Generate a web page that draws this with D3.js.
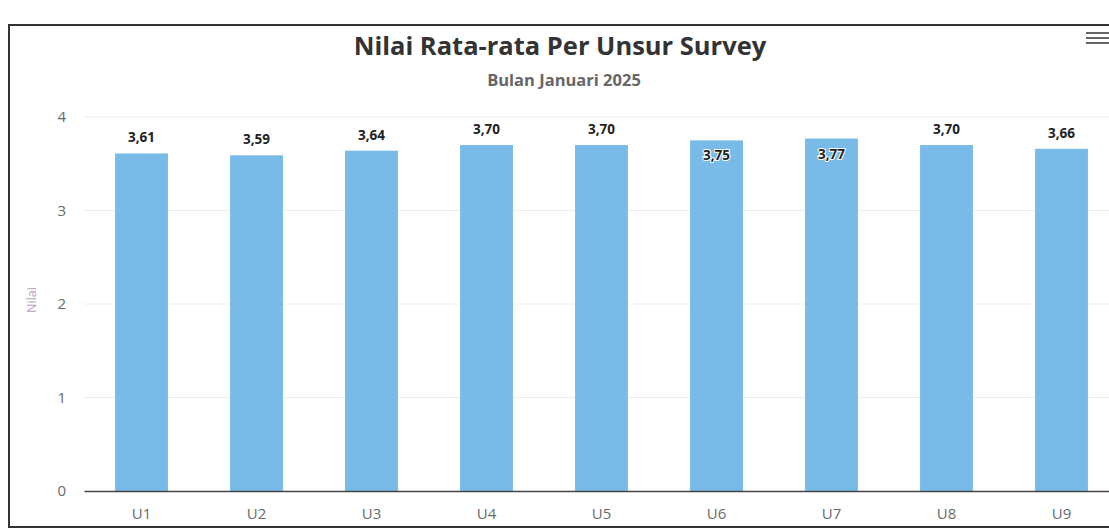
<!DOCTYPE html>
<html>
<head>
<meta charset="utf-8">
<script src="https://cdn.jsdelivr.net/npm/d3@7"></script>
<style>
  body { margin: 0; background: #fff; }
  svg { font-family: "Open Sans", "Noto Sans", sans-serif; display: block; }
</style>
</head>
<body>
<script>
// data
var categories = ["U1", "U2", "U3", "U4", "U5", "U6", "U7", "U8", "U9"];
var values = [3.61, 3.59, 3.64, 3.70, 3.70, 3.75, 3.77, 3.70, 3.66];
var yTicks = [0, 1, 2, 3, 4];

var width = 1109;
var height = 528;

// plot area (runs a bit past the right edge like the photo)
var margin = { top: 117, right: -10, bottom: 37, left: 84 };
var plotWidth = width - margin.left - margin.right;
var plotHeight = height - margin.top - margin.bottom;

var svg = d3.select("body")
  .append("svg")
  .attr("width", width)
  .attr("height", height);

// outer frame
svg.append("rect")
  .attr("x", 9).attr("y", 25)
  .attr("width", width + 20).attr("height", height - 26)
  .attr("fill", "none")
  .attr("stroke", "#333")
  .attr("stroke-width", 2);

// title + subtitle
svg.append("text")
  .attr("x", 560).attr("y", 55)
  .attr("text-anchor", "middle")
  .attr("font-size", 25.5).attr("font-weight", "bold")
  .attr("fill", "#333")
  .text("Nilai Rata-rata Per Unsur Survey");

svg.append("text")
  .attr("x", 564).attr("y", 86)
  .attr("text-anchor", "middle")
  .attr("font-size", 16.5).attr("font-weight", "bold")
  .attr("fill", "#666")
  .text("Bulan Januari 2025");

// hamburger menu
var menu = svg.append("g").attr("transform", "translate(1086, 33)");
[0, 5, 10].forEach(function(dy) {
  menu.append("line")
    .attr("x1", 0).attr("x2", 24)
    .attr("y1", dy).attr("y2", dy)
    .attr("stroke", "#666").attr("stroke-width", 2);
});

var chartGroup = svg.append("g")
  .attr("transform", `translate(${margin.left}, ${margin.top})`);

var xScale = d3.scaleBand()
  .domain(categories)
  .range([0, plotWidth])
  .paddingInner(0.54)
  .paddingOuter(0.27);

var yScale = d3.scaleLinear()
  .domain([0, 4])
  .range([plotHeight, 0]);

// gridlines
chartGroup.append("g")
  .selectAll("line")
  .data(yTicks.filter(function(t) { return t > 0; }))
  .enter()
  .append("line")
  .attr("x1", 0).attr("x2", plotWidth)
  .attr("y1", function(d) { return yScale(d); })
  .attr("y2", function(d) { return yScale(d); })
  .attr("stroke", "#eeeeee");

// y axis labels
var yAxis = d3.axisLeft(yScale)
  .tickValues(yTicks)
  .tickFormat(d3.format("d"))
  .tickSize(0)
  .tickPadding(18);
chartGroup.append("g")
  .call(yAxis)
  .attr("font-family", null)
  .call(function(g) { g.select(".domain").remove(); })
  .selectAll("text")
  .attr("font-size", 15)
  .attr("fill", "#6a6a6a");

// y axis title
svg.append("text")
  .attr("transform", "translate(36, 300) rotate(-90)")
  .attr("text-anchor", "middle")
  .attr("font-size", 12.5)
  .attr("fill", "#b79cc0")
  .text("Nilai");

// bars
chartGroup.selectAll(".bar")
  .data(values)
  .enter()
  .append("rect")
  .attr("class", "bar")
  .attr("x", function(d, i) { return xScale(categories[i]); })
  .attr("y", function(d) { return yScale(d); })
  .attr("width", xScale.bandwidth())
  .attr("height", function(d) { return plotHeight - yScale(d); })
  .attr("fill", "#78bbe8");

// x axis
var xAxis = d3.axisBottom(xScale).tickSize(0).tickPadding(17);
chartGroup.append("g")
  .attr("transform", `translate(0, ${plotHeight})`)
  .call(xAxis)
  .attr("font-family", null)
  .call(function(g) {
    g.select(".domain").attr("stroke", "#444").attr("stroke-width", 1.5);
  })
  .selectAll("text")
  .attr("font-size", 15)
  .attr("fill", "#6a6a6a");

// data labels: inside the bar when there is no room above it
chartGroup.selectAll(".label")
  .data(values)
  .enter()
  .append("text")
  .attr("class", "label")
  .attr("x", function(d, i) { return xScale(categories[i]) + xScale.bandwidth() / 2; })
  .attr("y", function(d) {
    var top = yScale(d);
    return top - 25 < 0 ? top + 20 : top - 11;
  })
  .attr("text-anchor", "middle")
  .attr("font-size", 13.5)
  .attr("font-weight", "bold")
  .attr("fill", "#222")
  .attr("stroke", "#fff")
  .attr("stroke-width", 2)
  .attr("paint-order", "stroke")
  .text(function(d) { return d.toFixed(2).replace(".", ","); });
</script>
</body>
</html>
